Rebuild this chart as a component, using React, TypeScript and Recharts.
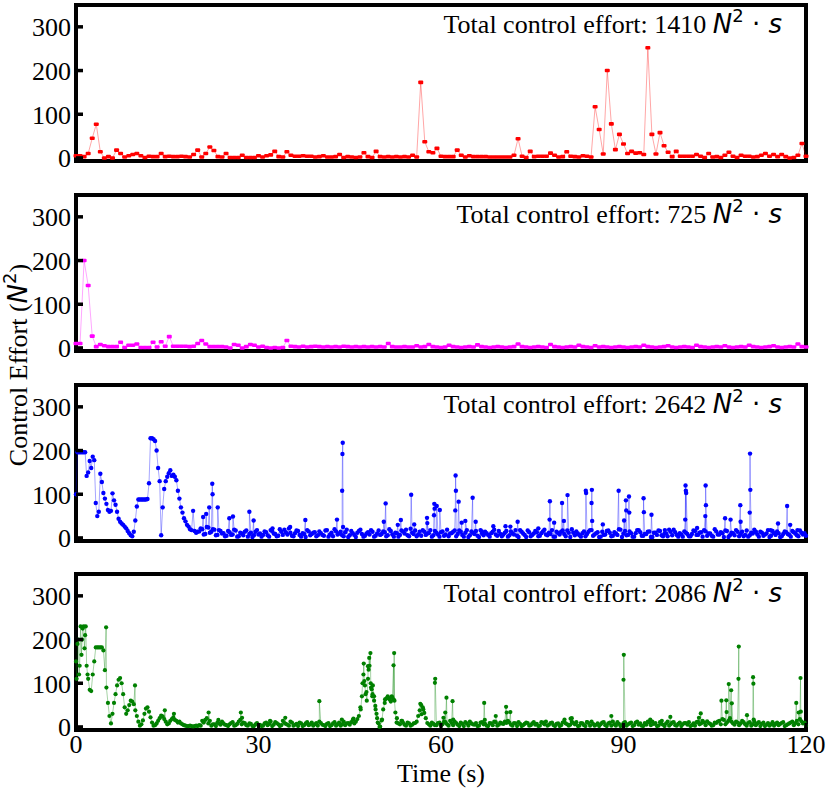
import React from 'react';
import { LineChart, Line, XAxis, YAxis, ReferenceArea } from 'recharts';

const FONT = '"Liberation Serif", "Times New Roman", serif';
const MATH = '"DejaVu Sans", sans-serif';

const X_TICKS = [0, 30, 60, 90, 120];
const Y_TICKS = [0, 100, 200, 300];
const Y_MIN = -7;
const Y_MAX = 350;

// red + magenta runs: one sample every 2/3 s, t = 0..120
const COARSE_DT = 2 / 3;
const redEffort = [
  5, 5, 3, 10, 45, 77, 14, 0, 3, 0, 18,
  10, 2, 5, 8, 10, 5, 1, 4, 3, 3,
  10, 3, 4, 3, 3, 4, 3, 2, 8, 18,
  2, 10, 25, 17, 3, 2, 10, 1, 1, 1,
  6, 1, 1, 1, 5, 2, 5, 7, 15, 3,
  2, 14, 6, 4, 4, 5, 4, 4, 2, 3,
  5, 2, 2, 3, 8, 1, 3, 2, 1, 2,
  12, 3, 1, 15, 3, 2, 3, 2, 3, 2,
  3, 2, 6, 2, 173, 37, 14, 12, 22, 4,
  3, 3, 3, 18, 6, 2, 5, 3, 3, 3,
  3, 2, 2, 2, 2, 2, 2, 6, 44, 4,
  1, 15, 3, 4, 4, 4, 11, 6, 2, 3,
  14, 4, 3, 2, 5, 4, 2, 117, 65, 9,
  200, 78, 19, 54, 32, 10, 15, 11, 12, 8,
  252, 54, 9, 58, 28, 13, 3, 15, 4, 4,
  4, 4, 8, 4, 1, 10, 2, 3, 1, 6,
  13, 4, 1, 6, 4, 4, 2, 3, 6, 10,
  4, 8, 3, 8, 3, 0, 1, 6, 33, 4,
];
const magentaEffort = [
  10, 10, 200, 143, 27, 3, 8, 5, 3, 3, 3,
  13, 1, 6, 6, 9, 1, 1, 1, 13, 2,
  14, 4, 26, 4, 4, 4, 4, 3, 4, 10,
  17, 9, 3, 3, 3, 3, 2, 0, 8, 6,
  0, 3, 8, 6, 2, 4, 1, 0, 1, 0,
  1, 17, 4, 3, 2, 4, 2, 3, 4, 3,
  2, 3, 2, 3, 2, 4, 3, 2, 3, 2,
  3, 2, 3, 2, 3, 2, 10, 3, 2, 2,
  3, 2, 2, 5, 2, 3, 8, 3, 2, 1,
  2, 6, 3, 2, 1, 2, 3, 2, 7, 3,
  2, 1, 2, 3, 2, 1, 2, 3, 9, 3,
  2, 1, 2, 3, 2, 1, 8, 3, 2, 1,
  2, 3, 2, 6, 3, 2, 1, 5, 2, 3,
  2, 1, 2, 3, 2, 1, 2, 3, 2, 6,
  3, 2, 1, 2, 3, 5, 2, 1, 2, 3,
  2, 1, 6, 3, 2, 1, 2, 3, 2, 5,
  2, 1, 2, 3, 2, 6, 3, 2, 1, 2,
  3, 5, 2, 1, 2, 3, 2, 9, 3, 2,
];

// blue + green runs: 0.25 s samples for the first 20 s; after that two
// interleaved 0.5 s grids (x.5/x.0 and x.25/x.75) plus the spikes
const EARLY_DT = 0.25;
const LATE_T0 = 20.5;
const MID_T0 = 20.25;
const LATE_DT = 0.5;

const blueEarly = [
  100, 196, 196, 196, 196, 196, 196, 142, 150, 176,
  160, 186, 178, 80, 50, 60, 147, 128, 103, 90,
  78, 64, 60, 62, 102, 86, 76, 60, 44, 37,
  33, 30, 26, 22, 16, 11, 6, 4, 14, 40,
  72, 88, 88, 88, 88, 88, 88, 89, 125, 228,
  228, 226, 222, 200, 160, 130, 6, 70, 112, 130,
  140, 148, 155, 142, 145, 140, 132, 108, 90, 70,
  58, 45, 38, 30, 26, 20, 18, 62, 16, 12,
  14,
];
const blueLate = [
  22, 8, 25, 12, 20, 6, 18, 10,
  4, 16, 7, 19, 3, 12, 6, 17, 9, 2, 14, 8,
  3, 15, 6, 18, 10, 4, 20, 7, 13, 22, 5, 11, 16, 3, 9, 18, 6, 12, 4, 15,
  7, 17, 3, 12, 20, 8, 14, 4, 19, 6, 11, 2, 16, 9, 5, 13, 18, 3, 10, 7,
  15, 4, 20, 8, 12, 3, 17, 10, 6, 21, 9, 4, 14, 18, 7, 11, 3, 16, 8, 13,
  5, 19, 10, 14, 4, 17, 7, 12, 2, 15, 9, 5, 18, 6, 11, 3, 14, 8, 16, 4,
  12, 3, 15, 8, 5, 18, 10, 2, 13, 7, 16, 4, 11, 19, 6, 9, 3, 14, 8, 17,
  4, 12, 20, 6, 10, 3, 15, 9, 18, 5, 11, 2, 14, 8, 17, 4, 13, 7, 19, 10,
  6, 15, 3, 11, 18, 5, 9, 14, 2, 12, 7, 16, 4, 10, 19, 6, 13, 3, 8, 15,
  9, 4, 17, 7, 12, 3, 15, 10, 5, 20, 8, 13, 2, 16, 6, 11, 18, 4, 14, 7,
  3, 12, 19, 8, 14, 5, 10, 2, 16, 7, 11, 4, 15, 9, 3, 13, 6, 17, 8, 5,
];
const blueLateMid = [
  15, 20, 9, 24, 14, 19, 7, 16,
  11, 5, 13, 8, 17, 4, 10, 14, 3, 12, 6, 18,
  10, 7, 13, 3, 16, 9, 5, 14, 19, 8, 12, 4, 17, 7, 11, 2, 15, 9, 13, 6,
  11, 5, 18, 8, 4, 15, 10, 6, 13, 2, 16, 7, 12, 19, 3, 10, 8, 14, 5, 17,
  9, 13, 6, 16, 3, 11, 7, 15, 19, 4, 12, 17, 8, 5, 14, 10, 18, 6, 12, 3,
  15, 8, 4, 11, 17, 9, 14, 3, 18, 6, 12, 16, 2, 10, 14, 7, 11, 19, 5, 9,
  8, 16, 6, 11, 18, 2, 14, 7, 17, 4, 10, 13, 5, 15, 8, 12, 18, 3, 11, 14,
  9, 17, 2, 12, 15, 6, 11, 4, 14, 18, 8, 13, 3, 7, 16, 12, 5, 10, 20, 2,
  16, 7, 11, 3, 18, 13, 5, 9, 15, 2, 12, 17, 6, 10, 4, 14, 19, 7, 11, 3,
  12, 4, 9, 16, 7, 13, 18, 5, 10, 3, 15, 8, 11, 17, 2, 12, 6, 14, 9, 4,
  17, 6, 10, 14, 3, 12, 8, 18, 5, 11, 15, 2, 9, 13, 7, 16, 10, 4, 12, 11,
];
const blueSpikes: [number, number][] = [
  [20.9, 48], [21.4, 55], [21.9, 70], [22.4, 124], [22.45, 100], [23.3, 70],
  [25.2, 45], [25.8, 49], [28.5, 60], [29.2, 40], [32.3, 22], [35.2, 25],
  [37.7, 41], [42.9, 42], [43.75, 108], [43.8, 192], [43.85, 218], [43.9, 25],
  [50.6, 37], [50.9, 79], [52.9, 30], [53.4, 41], [55.1, 99], [55.6, 31],
  [57.7, 46], [57.75, 34], [58.85, 52], [58.9, 78], [58.95, 67], [59.3, 73],
  [59.8, 64], [62.35, 63], [62.4, 143], [62.45, 108], [62.9, 83], [63.4, 35],
  [64.0, 39], [65.2, 92], [65.7, 37], [66.7, 15], [68.6, 27], [70.6, 27],
  [71.4, 26], [72.6, 37], [76.0, 22], [77.85, 42], [77.9, 84], [78.6, 35],
  [79.9, 80], [80.2, 39], [80.8, 98], [83.8, 108], [83.85, 103], [84.75, 80],
  [84.8, 110], [84.85, 39], [86.6, 31], [89.2, 108], [90.1, 40], [90.4, 86],
  [90.45, 63], [90.9, 95], [90.95, 58], [93.3, 91], [93.35, 59], [94.6, 53],
  [96.8, 18], [100.15, 42], [100.2, 120], [100.25, 108], [100.3, 103], [102.1, 23],
  [103.45, 50], [103.5, 120], [103.55, 75], [106.7, 45], [107.6, 42], [109.2, 75],
  [109.25, 37], [110.75, 58], [110.8, 193], [110.85, 110], [111.7, 14], [114.2, 18],
  [115.4, 33], [116.9, 73], [117.4, 30], [118.6, 18],
];

const greenEarly = [
  150, 190, 120, 230, 200, 230, 210, 140, 110, 85,
  82, 120, 150, 182, 182, 182, 182, 182, 175, 130,
  90, 55, 25, 8, 30, 55, 75, 95, 108, 112,
  100, 75, 45, 30, 38, 50, 60, 58, 52, 38,
  25, 12, 3, 6, 15, 30, 42, 45, 35, 22,
  10, 3, 4, 8, 14, 20, 26, 24, 18, 12,
  6, 8, 14, 18, 22, 16, 14, 10, 12, 8,
  6, 4, 3, 2, 2, 3, 2, 1, 2, 3,
  2,
];
const greenLate = [
  3, 10, 20, 14, 6, 2, 8, 12,
  5, 2, 9, 3, 7, 16, 10, 4, 8, 2, 6, 3,
  2, 8, 4, 12, 5, 9, 2, 14, 7, 3, 10, 5, 2, 8, 4, 11, 6, 3, 9, 12,
  5, 2, 9, 4, 11, 6, 3, 12, 8, 5, 16, 12, 25, 70, 95, 110, 90, 60, 20, 1,
  40, 65, 64, 68, 33, 8, 14, 5, 10, 3, 8, 12, 38, 45, 20, 6, 10, 4, 9, 3,
  12, 6, 14, 4, 9, 2, 7, 11, 3, 8, 5, 2, 10, 6, 3, 9, 4, 11, 5, 8,
  12, 14, 5, 9, 2, 7, 4, 10, 3, 8, 5, 2, 11, 6, 3, 9, 4, 7, 2, 10,
  8, 3, 12, 6, 2, 9, 4, 11, 3, 7, 5, 2, 10, 4, 8, 3, 6, 11, 2, 9,
  3, 8, 2, 10, 5, 3, 9, 12, 4, 7, 2, 11, 5, 8, 3, 10, 4, 7, 2, 9,
  5, 2, 8, 11, 6, 14, 4, 9, 3, 10, 12, 6, 16, 10, 20, 8, 12, 4, 14, 6,
  9, 3, 12, 8, 2, 10, 5, 3, 11, 7, 4, 9, 2, 6, 10, 4, 14, 18, 8, 3,
];
const greenLateMid = [
  4, 14, 16, 8, 3, 6, 10, 5,
  8, 4, 6, 11, 4, 12, 6, 9, 3, 7, 2, 9,
  5, 3, 10, 7, 2, 11, 6, 4, 9, 5, 12, 3, 7, 10, 2, 8, 4, 10, 6, 3,
  9, 4, 7, 2, 8, 3, 10, 6, 4, 9, 11, 8, 18, 45, 120, 80, 140, 75, 40, 8,
  15, 55, 70, 58, 62, 20, 6, 10, 3, 8, 5, 9, 25, 50, 32, 9, 3, 7, 4, 10,
  6, 11, 3, 9, 12, 5, 10, 2, 8, 12, 6, 9, 3, 11, 7, 2, 8, 12, 3, 10,
  7, 9, 10, 3, 8, 11, 2, 7, 9, 4, 11, 7, 3, 9, 12, 5, 10, 2, 8, 4,
  12, 6, 5, 9, 11, 3, 8, 2, 9, 12, 3, 8, 6, 11, 2, 10, 12, 3, 7, 4,
  11, 6, 10, 4, 12, 8, 2, 5, 10, 12, 9, 3, 7, 2, 12, 6, 11, 3, 10, 6,
  9, 11, 4, 3, 12, 8, 10, 13, 7, 4, 9, 14, 18, 6, 14, 12, 5, 10, 8, 11,
  3, 11, 6, 4, 11, 7, 2, 9, 6, 3, 10, 7, 11, 4, 8, 12, 9, 6, 13, 10,
];
const greenSpikes: [number, number][] = [
  [0.1, 110], [0.4, 200], [0.6, 140], [0.9, 165], [1.1, 225], [1.4, 180],
  [1.6, 230], [1.9, 120], [4.95, 228], [9.7, 95], [14.6, 38], [16.1, 30],
  [21.8, 33], [23.4, 16], [27.1, 33], [27.3, 21], [31.9, 14], [34.4, 21],
  [40.0, 59], [43.7, 17], [45.6, 19],
  [46.8, 40], [47.1, 100], [47.3, 145], [47.4, 105], [47.6, 75], [47.8, 60],
  [48.0, 139], [48.1, 131], [48.2, 158], [48.4, 169], [48.45, 100], [48.6, 86],
  [48.7, 70], [48.8, 95], [49.0, 70], [49.2, 48], [49.4, 30], [49.6, 10], [49.9, 0],
  [50.3, 17], [50.8, 63], [51.2, 67], [51.6, 63], [51.9, 70], [52.2, 141],
  [52.3, 169], [52.35, 60], [52.7, 10], [53.6, 14], [56.6, 53], [56.8, 29],
  [57.1, 40], [59.0, 101], [59.05, 110], [60.4, 21], [60.7, 33], [60.9, 67],
  [61.9, 59], [62.0, 17], [67.1, 55], [67.2, 16], [69.0, 25], [70.7, 46],
  [70.8, 33], [71.4, 34], [76.9, 10], [80.3, 17], [81.3, 19], [81.5, 20],
  [84.0, 11], [88.0, 25], [90.0, 108], [90.05, 165], [94.4, 17], [96.3, 14],
  [97.7, 23], [102.4, 21], [102.7, 31], [106.1, 60], [106.9, 61], [106.95, 34],
  [107.3, 98], [107.7, 84], [107.8, 54], [108.9, 110], [108.95, 184], [110.3, 27],
  [111.3, 114], [111.35, 99], [111.4, 17], [118.4, 55], [118.8, 33], [119.1, 112],
  [119.15, 35],
];

const totals = [1410, 725, 2642, 2086];

type Pt = { t: number; v: number };

function sampled(values: number[], dt: number, t0 = 0): Pt[] {
  return values.map((v, i) => ({ t: Math.round((t0 + i * dt) * 1000) / 1000, v }));
}

function merged(...parts: Pt[][]): Pt[] {
  return parts.flat().sort((a, b) => a.t - b.t);
}

const fromPairs = (pairs: [number, number][]): Pt[] => pairs.map(([t, v]) => ({ t, v }));

const redData = sampled(redEffort, COARSE_DT);
const magentaData = sampled(magentaEffort, COARSE_DT);
const blueData = merged(
  sampled(blueEarly, EARLY_DT),
  sampled(blueLate, LATE_DT, LATE_T0),
  sampled(blueLateMid, LATE_DT, MID_T0),
  fromPairs(blueSpikes),
);
const greenData = merged(
  sampled(greenEarly, EARLY_DT),
  sampled(greenLate, LATE_DT, LATE_T0),
  sampled(greenLateMid, LATE_DT, MID_T0),
  fromPairs(greenSpikes),
);

function YTick(props: any) {
  const { x, y, payload } = props;
  return (
    <g>
      <line x1={x + 8} x2={x + 15} y1={y} y2={y} stroke="#000" strokeWidth={3.5} />
      <text x={x + 3} y={y} dy="0.36em" textAnchor="end" fontSize={26} fontFamily={FONT} fill="#000">
        {payload.value}
      </text>
    </g>
  );
}

function XTick(props: any) {
  const { x, y, payload } = props;
  return (
    <g>
      <line x1={x} x2={x} y1={y - 8} y2={y - 15} stroke="#000" strokeWidth={3} />
      <text x={x} y={y + 15} textAnchor="middle" fontSize={26} fontFamily={FONT} fill="#000">
        {payload.value}
      </text>
    </g>
  );
}

function Annotation(props: any) {
  const { viewBox, total } = props;
  if (!viewBox) return null;
  const x = viewBox.x + viewBox.width - 24;
  const y = viewBox.y + 28;
  return (
    <text x={x} y={y} textAnchor="end" fontSize={26} fontFamily={FONT} fill="#000">
      <tspan>{`Total control effort: ${total} `}</tspan>
      <tspan fontFamily={MATH} fontStyle="italic">N</tspan>
      <tspan fontFamily={MATH} fontSize={18} dy={-11}>2</tspan>
      <tspan fontFamily={MATH} dy={11}>{'\u00a0·\u00a0'}</tspan>
      <tspan fontFamily={MATH} fontStyle="italic">s</tspan>
    </text>
  );
}

function dashDot(color: string) {
  return (p: any) => (
    <rect key={`d${p.index}`} x={p.cx - 2.5} y={p.cy - 1.8} width={5} height={3.6} rx={1} fill={color} />
  );
}

function roundDot(color: string, r: number) {
  return (p: any) => <circle key={`d${p.index}`} cx={p.cx} cy={p.cy} r={r} fill={color} />;
}

interface PanelProps {
  data: Pt[];
  color: string;
  dot: (p: any) => React.ReactElement;
  total: number;
  height: number;
  bottom?: boolean;
}

const PLOT_H = 156;
const TOP = 5;

function Panel({ data, color, dot, total, height, bottom }: PanelProps) {
  const below = height - TOP - PLOT_H;
  return (
    <LineChart
      width={831}
      height={height}
      data={data}
      margin={{ top: TOP, right: 25, left: 0, bottom: bottom ? 0 : below }}
    >
      <XAxis
        dataKey="t"
        type="number"
        domain={[0, 120]}
        ticks={X_TICKS}
        hide={!bottom}
        height={bottom ? below : 0}
        axisLine={false}
        tickLine={false}
        tick={<XTick />}
        label={{ value: 'Time (s)', position: 'insideBottom', offset: 11, fontSize: 26, fill: '#000', fontFamily: FONT }}
      />
      <YAxis
        type="number"
        domain={[Y_MIN, Y_MAX]}
        ticks={Y_TICKS}
        allowDataOverflow
        width={76}
        axisLine={false}
        tickLine={false}
        tick={<YTick />}
      />
      <Line
        type="linear"
        dataKey="v"
        stroke={color}
        strokeOpacity={0.35}
        strokeWidth={1}
        dot={dot}
        activeDot={false}
        isAnimationActive={false}
      />
      <ReferenceArea
        x1={0}
        x2={120}
        y1={Y_MIN}
        y2={Y_MAX}
        fill="none"
        stroke="#000"
        strokeWidth={4}
        ifOverflow="visible"
        label={<Annotation total={total} />}
      />
    </LineChart>
  );
}

export default function App() {
  return (
    <div style={{ position: 'absolute', left: 0, top: 0, width: 831, height: 793, background: '#fff', fontFamily: FONT }}>
      <Panel data={redData} color="#ff0000" dot={dashDot('#ff0000')} total={totals[0]} height={190} />
      <Panel data={magentaData} color="#ff00ff" dot={dashDot('#ff00ff')} total={totals[1]} height={190} />
      <Panel data={blueData} color="#0000ff" dot={roundDot('#0000ff', 2.2)} total={totals[2]} height={189} />
      <Panel data={greenData} color="#008000" dot={roundDot('#008000', 2.1)} total={totals[3]} height={224} bottom />
      <svg width={831} height={793} style={{ position: 'absolute', left: 0, top: 0, pointerEvents: 'none' }}>
        <text transform="translate(27,365) rotate(-90)" textAnchor="middle" fontSize={26} fontFamily={FONT} fill="#000">
          <tspan>Control Effort (</tspan>
          <tspan fontFamily={MATH} fontStyle="italic">N</tspan>
          <tspan fontFamily={MATH} fontSize={18} dy={-11}>2</tspan>
          <tspan dy={11}>)</tspan>
        </text>
      </svg>
    </div>
  );
}
